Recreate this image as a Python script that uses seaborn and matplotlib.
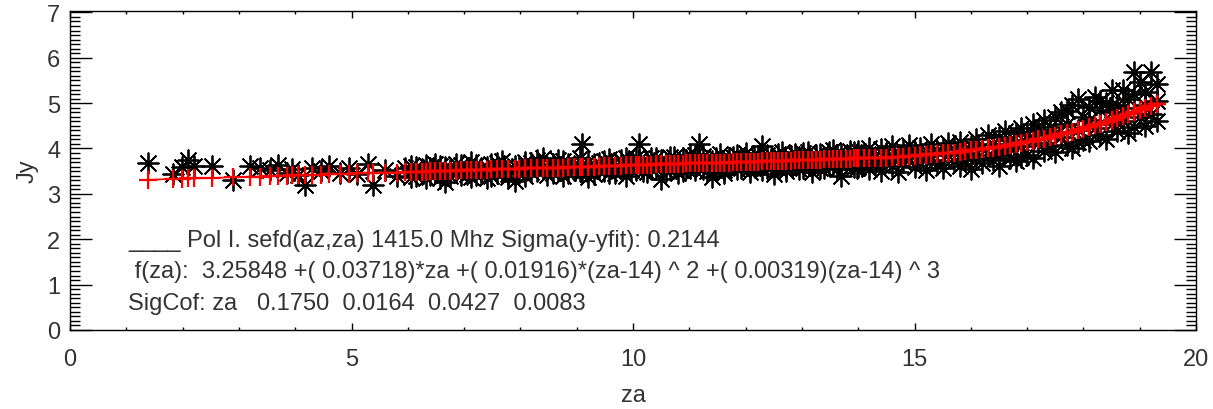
import numpy as np
import pandas as pd
import matplotlib
matplotlib.use("Agg")
import matplotlib.pyplot as plt
import seaborn as sns
from matplotlib.ticker import MultipleLocator

za_a = [1.39, 1.83, 1.99, 2.10, 2.20, 2.52, 2.90, 3.20, 3.37, 3.55, 3.70, 3.85, 3.95,
        4.05, 4.17, 4.30, 4.45, 4.60, 4.80, 4.95, 5.10, 5.30, 5.38, 5.60, 5.80, 5.95]
jy_a = [3.68, 3.44, 3.59, 3.74, 3.62, 3.61, 3.30, 3.61, 3.58, 3.52, 3.63, 3.45, 3.55,
        3.41, 3.20, 3.58, 3.50, 3.62, 3.47, 3.56, 3.44, 3.66, 3.20, 3.52, 3.40, 3.58]
fit_a = [3.31, 3.33, 3.33, 3.34, 3.34, 3.35, 3.37, 3.38, 3.38, 3.39, 3.40, 3.40, 3.41,
         3.41, 3.41, 3.42, 3.42, 3.43, 3.44, 3.44, 3.45, 3.46, 3.46, 3.47, 3.47, 3.48]

za_b = [6.05, 6.15, 6.25, 6.32, 6.40, 6.48, 6.58, 6.66, 6.75, 6.85, 6.95, 7.05, 7.12,
        7.22, 7.30, 7.40, 7.48, 7.58, 7.68, 7.78, 7.90, 7.98, 8.08, 8.18, 8.30, 8.40,
        8.48, 8.58, 8.66, 8.75, 8.85, 8.95, 9.05, 9.10, 9.20, 9.30, 9.40, 9.48, 9.58,
        9.68, 9.78, 9.88, 9.96]
jy_b1 = [3.62, 3.40, 3.55, 3.36, 3.58, 3.45, 3.62, 3.26, 3.52, 3.66, 3.42, 3.58, 3.38,
         3.64, 3.47, 3.60, 3.40, 3.68, 3.50, 3.44, 3.28, 3.62, 3.70, 3.48, 3.74, 3.55,
         3.42, 3.66, 3.52, 3.72, 3.45, 3.62, 3.50, 4.10, 3.37, 3.66, 3.54, 3.72, 3.45,
         3.60, 3.75, 3.40, 3.66]
jy_b2 = [3.38, 3.60, 3.44, 3.63, 3.42, 3.66, 3.35, 3.60, 3.40, 3.48, 3.64, 3.44, 3.70,
         3.42, 3.58, 3.36, 3.66, 3.45, 3.72, 3.38, 3.62, 3.47, 3.40, 3.68, 3.50, 3.78,
         3.60, 3.46, 3.74, 3.40, 3.66, 3.52, 3.78, 3.48, 3.70, 3.44, 3.68, 3.50, 3.76,
         3.46, 3.58, 3.80, 3.52]
fit_b = [3.48, 3.49, 3.49, 3.49, 3.50, 3.50, 3.50, 3.51, 3.51, 3.51, 3.52, 3.52, 3.52,
         3.53, 3.53, 3.53, 3.54, 3.54, 3.54, 3.55, 3.55, 3.55, 3.56, 3.56, 3.57, 3.57,
         3.57, 3.58, 3.58, 3.58, 3.59, 3.59, 3.59, 3.60, 3.60, 3.60, 3.61, 3.61, 3.61,
         3.62, 3.62, 3.63, 3.63]

za_c = [10.05, 10.10, 10.18, 10.25, 10.32, 10.40, 10.50, 10.58, 10.65, 10.72, 10.80,
        10.88, 10.95, 11.02, 11.10, 11.17, 11.25, 11.32, 11.40, 11.48, 11.55, 11.62,
        11.70, 11.78, 11.85, 11.92, 12.00, 12.08, 12.15, 12.22, 12.30, 12.38, 12.45,
        12.50, 12.58, 12.65, 12.72, 12.80, 12.88, 12.95, 13.02, 13.10, 13.18, 13.25,
        13.32, 13.40, 13.48, 13.55, 13.62, 13.70, 13.78, 13.85, 13.92, 13.98]
jy_c1 = [3.78, 4.10, 3.50, 3.70, 3.58, 3.80, 3.33, 3.68, 3.55, 3.82, 3.62, 3.50, 3.75,
         3.60, 3.85, 4.10, 3.55, 3.72, 3.37, 3.80, 3.62, 3.52, 3.78, 3.66, 3.86, 3.56,
         3.74, 3.48, 3.82, 3.65, 4.05, 3.58, 3.76, 3.43, 3.88, 3.70, 3.60, 3.84, 3.68,
         3.55, 3.90, 3.72, 3.62, 3.86, 3.58, 3.80, 3.92, 3.66, 3.85, 3.40, 3.74, 3.95,
         3.60, 3.82]
jy_c2 = [3.52, 3.75, 3.62, 3.48, 3.80, 3.55, 3.74, 3.50, 3.82, 3.60, 3.45, 3.78, 3.58,
         3.86, 3.52, 3.66, 3.84, 3.50, 3.72, 3.58, 3.88, 3.46, 3.64, 3.82, 3.54, 3.76,
         3.90, 3.58, 3.62, 3.84, 3.52, 3.86, 3.60, 3.74, 3.56, 3.92, 3.50, 3.66, 3.88,
         3.82, 3.58, 3.92, 3.48, 3.70, 3.88, 3.56, 3.64, 3.96, 3.54, 3.86, 3.62, 3.70,
         3.92, 3.58]
fit_c = [3.63, 3.63, 3.64, 3.64, 3.64, 3.65, 3.65, 3.65, 3.65, 3.66, 3.66, 3.66, 3.67,
         3.67, 3.67, 3.67, 3.68, 3.68, 3.68, 3.68, 3.69, 3.69, 3.69, 3.70, 3.70, 3.70,
         3.70, 3.71, 3.71, 3.71, 3.72, 3.72, 3.72, 3.72, 3.73, 3.73, 3.73, 3.73, 3.74,
         3.74, 3.74, 3.75, 3.75, 3.75, 3.75, 3.76, 3.76, 3.76, 3.76, 3.77, 3.77, 3.77,
         3.78, 3.78]

# za >= 14: two measurements per za step
za_d = [14.0, 14.1, 14.2, 14.3, 14.4, 14.5, 14.6, 14.7, 14.8, 14.9, 15.0, 15.1, 15.2,
        15.3, 15.4, 15.5, 15.6, 15.7, 15.8, 15.9, 16.0, 16.1, 16.2, 16.3, 16.4, 16.5,
        16.6, 16.7, 16.8, 16.9, 17.0, 17.1, 17.2, 17.3, 17.4, 17.5, 17.6, 17.7, 17.8,
        17.9, 18.0, 18.1, 18.2, 18.3, 18.4, 18.5, 18.6, 18.7, 18.8, 18.9, 19.0, 19.1,
        19.2, 19.3]
jy_d1 = [3.95, 3.70, 4.02, 3.82, 3.98, 3.74, 4.05, 3.85, 3.96, 3.78, 3.60, 4.02, 3.84,
         4.10, 3.66, 4.00, 3.86, 3.72, 4.15, 3.90, 4.05, 3.80, 4.02, 4.30, 3.75, 4.25,
         3.95, 3.80, 4.35, 4.05, 3.85, 4.55, 4.12, 3.95, 4.48, 4.70, 4.25, 4.08, 4.95,
         4.40, 4.18, 4.92, 5.13, 4.30, 5.00, 5.30, 4.38, 5.30, 4.35, 5.68, 5.46, 4.50,
         5.68, 5.42]
jy_d2 = [3.60, 3.88, 3.55, 3.66, 3.50, 3.90, 3.62, 3.48, 3.70, 4.08, 3.92, 3.70, 3.52,
         3.75, 3.95, 3.58, 4.12, 3.98, 3.62, 3.75, 3.55, 4.20, 3.68, 3.85, 4.10, 3.62,
         4.38, 4.18, 3.72, 4.45, 4.30, 3.78, 4.40, 4.62, 4.05, 3.92, 4.80, 4.55, 4.00,
         5.08, 4.70, 4.17, 4.45, 4.85, 4.22, 4.55, 4.95, 4.60, 5.10, 4.47, 4.70, 5.25,
         4.75, 4.60]
fit_d = [3.78, 3.78, 3.79, 3.79, 3.80, 3.80, 3.81, 3.82, 3.82, 3.83, 3.84, 3.85, 3.86,
         3.87, 3.88, 3.89, 3.90, 3.91, 3.93, 3.94, 3.96, 3.97, 3.99, 4.00, 4.02, 4.04,
         4.06, 4.08, 4.10, 4.13, 4.15, 4.17, 4.20, 4.22, 4.25, 4.28, 4.31, 4.34, 4.37,
         4.40, 4.44, 4.47, 4.51, 4.55, 4.58, 4.62, 4.67, 4.71, 4.75, 4.80, 4.84, 4.89,
         4.94, 4.99]

za_e = [16.5, 16.7, 16.9, 17.1, 17.3, 17.5, 17.7, 17.9, 18.1, 18.3, 18.5, 18.7, 18.9,
        19.1, 19.3]
jy_e = [3.90, 4.00, 3.82, 4.20, 4.30, 4.35, 4.82, 4.15, 4.62, 5.05, 4.80, 4.90, 5.20,
        4.95, 5.05]
fit_e = [4.04, 4.08, 4.13, 4.17, 4.22, 4.28, 4.34, 4.40, 4.47, 4.55, 4.62, 4.71, 4.80,
         4.89, 4.99]

label_1 = "____ Pol I. sefd(az,za) 1415.0 Mhz Sigma(y-yfit): 0.2144"
label_2 = " f(za):  3.25848 +( 0.03718)*za +( 0.01916)*(za-14) ^ 2 +( 0.00319)(za-14) ^ 3"
label_3 = "SigCof: za   0.1750  0.0164  0.0427  0.0083"

df = pd.DataFrame({
    "za": za_a + za_b + za_b + za_c + za_c + za_d + za_d + za_e,
    "jy": jy_a + jy_b1 + jy_b2 + jy_c1 + jy_c2 + jy_d1 + jy_d2 + jy_e,
    "fit": fit_a + fit_b + fit_b + fit_c + fit_c + fit_d + fit_d + fit_e,
})

sns.set_theme(style="ticks")
plt.rcParams["font.family"] = ["Liberation Sans", "DejaVu Sans"]
txt = "#333333"
fs = 17

fig = plt.figure(figsize=(12.13, 4.10), dpi=100)
ax = fig.add_axes([70 / 1213, 79 / 410, 1126 / 1213, 319 / 410])

sns.scatterplot(data=df, x="za", y="jy", marker=(8, 2, 0), s=220, color="black",
                linewidth=1.3, ax=ax, zorder=2)
sns.lineplot(data=df, x="za", y="fit", color="red", lw=1.2, estimator=None,
             sort=True, ax=ax, zorder=3)
sns.scatterplot(data=df, x="za", y="fit", marker="+", s=180, color="red",
                linewidth=1.6, ax=ax, zorder=4)

ax.set_xlim(0, 20)
ax.set_ylim(0, 7.03)
ax.xaxis.set_major_locator(MultipleLocator(5))
ax.xaxis.set_minor_locator(MultipleLocator(1))
ax.yaxis.set_major_locator(MultipleLocator(1))
ax.yaxis.set_minor_locator(MultipleLocator(0.1))

ax.tick_params(which="both", direction="in", top=True, right=True, color="black",
               width=1.0, labelsize=fs, labelcolor=txt)
ax.tick_params(axis="y", which="major", length=16, pad=7)
ax.tick_params(axis="y", which="minor", length=7.5)
ax.tick_params(axis="x", which="major", length=5, pad=13)
ax.tick_params(axis="x", which="minor", length=2.5)
for sp in ax.spines.values():
    sp.set_color("black")
    sp.set_linewidth(1.0)

ax.set_xlabel("za", fontsize=fs, color=txt, labelpad=10)
ax.set_ylabel("Jy", fontsize=fs, color=txt, labelpad=6)

ax.text(1.03, 1.99, label_1, fontsize=fs, color=txt, va="center")
ax.text(1.03, 1.30, label_2, fontsize=fs, color=txt, va="center")
ax.text(1.03, 0.59, label_3, fontsize=fs, color=txt, va="center")

fig.savefig("out.png", dpi=100)
